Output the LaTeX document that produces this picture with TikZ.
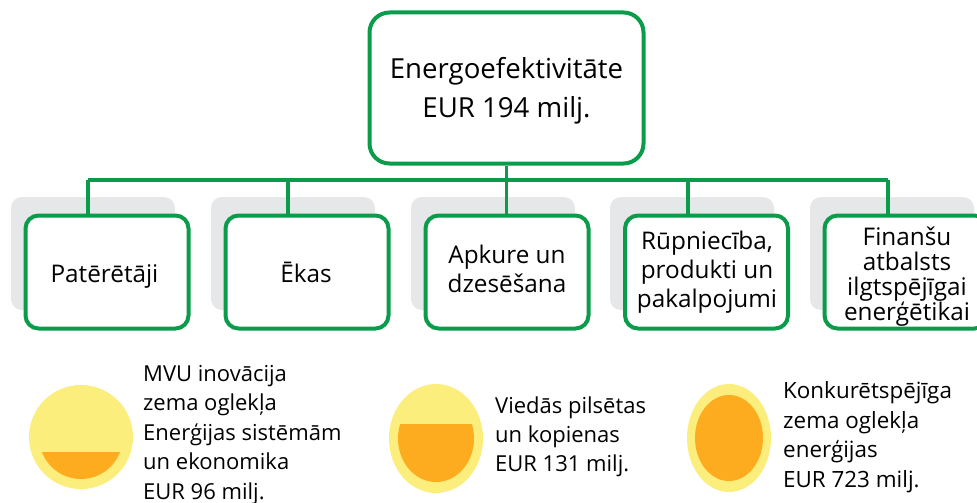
\documentclass[tikz,border=0pt]{standalone}
\usepackage{fontspec}
\setmainfont{Open Sans}
\definecolor{gr}{HTML}{0A9B4B}
\definecolor{shade}{HTML}{E6E7E8}
\definecolor{yel}{HTML}{FBEE7C}
\definecolor{org}{HTML}{FDAB1F}
\tikzset{
 link/.style={draw=gr,line width=3.6pt},
 card/.style={draw=gr,line width=4pt,fill=white,rounded corners=13pt,minimum width=163pt,minimum height=113pt,inner sep=0pt,anchor=center},
 back/.style={fill=shade,rounded corners=11pt},
 lab/.style={inner sep=0pt,align=center,anchor=base,font=\fontsize{24.3}{25}\selectfont},
 side/.style={inner sep=0pt,align=left,anchor=base west,font=\fontsize{22}{29.5}\selectfont},
}
\begin{document}
\begin{tikzpicture}[x=1pt,y=-1pt]
\useasboundingbox (0,0) rectangle (977,503);
\clip (0,0) rectangle (977,503);
\fill[white] (0,0) rectangle (977,503);
\foreach \x in {11,211,411,610,810}{\fill[back] (\x,197) rectangle ++(164,113);}
\coordinate (c1) at (88,180);
\coordinate (c2) at (288,180);
\coordinate (c4) at (688,180);
\coordinate (c5) at (888,180);
\node[card,minimum width=274pt,minimum height=151pt,rounded corners=20pt] (top) at (506.5,88) {};
\node[card] (pat) at (107,272) {};
\node[card] (eka) at (307,272) {};
\node[card] (apk) at (507,272) {};
\node[card] (rup) at (706.5,272) {};
\node[card] (fin) at (906,272) {};
\draw[link] (c1) -- (c5);
\draw[link] (top.south) -- (top.south |- apk.north);
\draw[link] (c1) -- (c1 |- pat.north);
\draw[link] (c2) -- (c2 |- eka.north);
\draw[link] (c4) -- (c4 |- rup.north);
\draw[link] (c5) -- (c5 |- fin.north);
\node[lab,font=\fontsize{27.6}{39}\selectfont] (t0) at (506.5,117) {Energoefektivitāte\\EUR 194 milj.};
\node[lab] (t1) at (104.5,282) {Patērētāji};
\node[lab] (t2) at (306,282) {Ēkas};
\node[lab,font=\fontsize{24.3}{29}\selectfont] (t3) at (507,292) {Apkure un\\dzesēšana};
\node[lab,font=\fontsize{24.3}{29}\selectfont] (t4) at (707,307) {Rūpniecība,\\produkti un\\pakalpojumi};
\node[lab] (t5) at (907,320) {Finanšu\\atbalsts\\ilgtspējīgai\\enerģētikai};
\fill[yel] (81,437) circle[radius=52];
\begin{scope}
\clip (30,452) rectangle (130,490);
\fill[org] (81,437.3) circle[radius=41.7];
\end{scope}
\fill[yel] (436,438.5) ellipse[x radius=47,y radius=54.5];
\begin{scope}
\clip (390,424) rectangle (480,490);
\fill[org] (436,438.5) ellipse[x radius=38,y radius=43.5];
\end{scope}
\fill[yel] (729,438) ellipse[x radius=42,y radius=54];
\fill[org] (729,438) ellipse[x radius=34,y radius=43];
\node[side] (s1) at (143,499) {MVU inovācija\\zema oglekļa\\Enerģijas sistēmām\\un ekonomika\\EUR 96 milj.};
\node[side,font=\fontsize{22}{29}\selectfont] (s2) at (495,471) {Viedās pilsētas\\un kopienas\\EUR 131 milj.};
\node[side,font=\fontsize{22.4}{29.5}\selectfont] (s3) at (783,487) {Konkurētspējīga\\zema oglekļa\\enerģijas\\EUR 723 milj.};
\end{tikzpicture}
\end{document}
